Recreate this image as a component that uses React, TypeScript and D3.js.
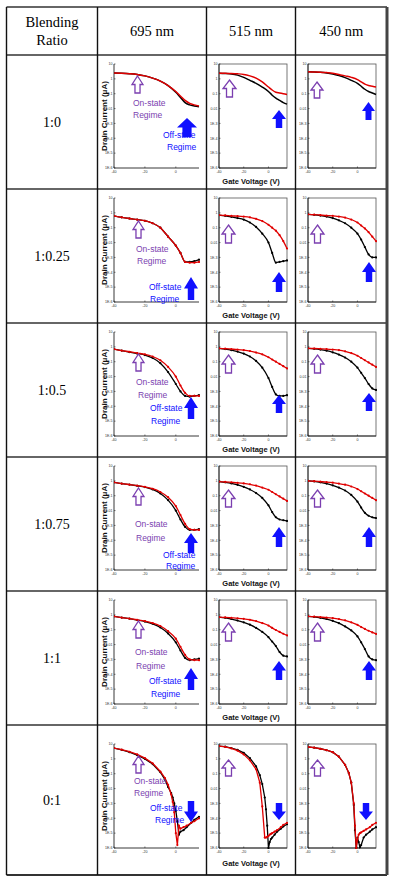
import React from 'react';
import * as d3 from 'd3';

// ---------- data ----------
const wavelengths = ['695 nm', '515 nm', '450 nm'];
const ratios = ['1:0', '1:0.25', '1:0.5', '1:0.75', '1:1', '0:1'];
const yTickValues = [10, 1, 0.1, 0.01, 1e-3, 1e-4, 1e-5, 1e-6];
const yTickLabels = ['10', '1', '0.1', '0.01', '1E-3', '1E-4', '1E-5', '1E-6'];
const xTickValues = [-40, -20, 0];

// gate voltage sweeps (V)
const vgSweep = [-40, -35, -30, -25, -20, -15, -10, -5, 0, 3, 6, 9, 12, 15];
const vgFine = [-40, -35, -30, -25, -20, -15, -10, -7, -5, -3, -2, -1, 0, 1, 2, 3, 5, 7, 10, 12, 15];

// log10 of drain current (uA)
const r1c1Black = [0.4, 0.38, 0.35, 0.3, 0.2, 0.05, -0.15, -0.45, -0.9, -1.25, -1.6, -1.75, -1.82, -1.87];
const r1c1Red = [0.4, 0.38, 0.35, 0.3, 0.2, 0.05, -0.15, -0.45, -0.85, -1.15, -1.45, -1.65, -1.75, -1.82];
const r1c2Black = [0.38, 0.36, 0.33, 0.25, 0.1, -0.1, -0.3, -0.55, -0.85, -1.1, -1.3, -1.45, -1.6, -1.7];
const r1c2Red = [0.38, 0.37, 0.36, 0.34, 0.3, 0.2, 0.05, -0.2, -0.55, -0.75, -0.9, -0.95, -1.0, -1.05];
const r1c3Black = [0.47, 0.46, 0.44, 0.4, 0.33, 0.22, 0.08, -0.1, -0.3, -0.5, -0.7, -0.85, -0.95, -1.05];
const r1c3Red = [0.47, 0.46, 0.45, 0.42, 0.38, 0.3, 0.2, 0.1, -0.05, -0.2, -0.35, -0.45, -0.5, -0.55];

const r2c1Black = [-0.2, -0.3, -0.38, -0.45, -0.53, -0.7, -1.0, -1.6, -2.2, -2.7, -3.3, -3.3, -3.25, -3.15];
const r2c1Red = [-0.2, -0.3, -0.38, -0.45, -0.53, -0.7, -1.0, -1.6, -2.2, -2.7, -3.3, -3.35, -3.35, -3.3];
const r2c2Black = [-0.15, -0.2, -0.27, -0.35, -0.45, -0.65, -0.95, -1.4, -2.0, -2.7, -3.35, -3.3, -3.25, -3.2];
const r2c2Red = [-0.15, -0.17, -0.2, -0.22, -0.25, -0.3, -0.4, -0.55, -0.8, -1.0, -1.2, -1.5, -1.9, -2.4];
const r2c3Black = [-0.1, -0.13, -0.18, -0.25, -0.35, -0.5, -0.7, -1.0, -1.4, -1.8, -2.3, -2.8, -3.0, -3.0];
const r2c3Red = [-0.1, -0.12, -0.15, -0.18, -0.2, -0.25, -0.32, -0.45, -0.65, -0.85, -1.05, -1.3, -1.6, -1.9];

const r3c1Black = [-0.15, -0.25, -0.35, -0.45, -0.55, -0.75, -1.1, -1.7, -2.5, -3.0, -3.3, -3.35, -3.3, -3.25];
const r3c1Red = [-0.15, -0.25, -0.33, -0.42, -0.5, -0.65, -0.9, -1.35, -2.0, -2.6, -3.1, -3.3, -3.3, -3.3];
const r3c2Black = [-0.1, -0.15, -0.22, -0.32, -0.45, -0.65, -0.95, -1.4, -2.1, -2.7, -3.2, -3.3, -3.3, -3.25];
const r3c2Red = [-0.1, -0.12, -0.15, -0.18, -0.22, -0.28, -0.38, -0.5, -0.7, -0.85, -1.0, -1.15, -1.3, -1.45];
const r3c3Black = [-0.1, -0.13, -0.18, -0.26, -0.37, -0.52, -0.72, -1.0, -1.4, -1.75, -2.1, -2.5, -2.8, -2.9];
const r3c3Red = [-0.1, -0.11, -0.13, -0.15, -0.18, -0.22, -0.3, -0.42, -0.6, -0.75, -0.9, -1.05, -1.2, -1.35];

const r4c1Black = [-0.1, -0.18, -0.25, -0.33, -0.42, -0.58, -0.85, -1.3, -2.0, -2.6, -3.1, -3.3, -3.3, -3.25];
const r4c1Red = [-0.1, -0.18, -0.25, -0.32, -0.4, -0.53, -0.75, -1.1, -1.7, -2.3, -2.9, -3.25, -3.3, -3.3];
const r4c2Black = [-0.05, -0.1, -0.17, -0.27, -0.4, -0.58, -0.82, -1.15, -1.65, -2.1, -2.45, -2.6, -2.65, -2.7];
const r4c2Red = [-0.05, -0.07, -0.1, -0.13, -0.17, -0.23, -0.32, -0.45, -0.6, -0.75, -0.9, -1.05, -1.2, -1.35];
const r4c3Black = [0.0, -0.04, -0.1, -0.18, -0.3, -0.45, -0.65, -0.95, -1.4, -1.8, -2.15, -2.35, -2.45, -2.5];
const r4c3Red = [0.0, -0.02, -0.05, -0.08, -0.12, -0.18, -0.26, -0.38, -0.55, -0.7, -0.85, -1.0, -1.15, -1.3];

const r5c1Black = [-0.1, -0.18, -0.26, -0.35, -0.45, -0.6, -0.85, -1.25, -1.85, -2.4, -2.9, -3.05, -3.0, -2.95];
const r5c1Red = [-0.1, -0.18, -0.25, -0.33, -0.42, -0.55, -0.75, -1.1, -1.6, -2.15, -2.7, -3.0, -3.05, -3.05];
const r5c2Black = [-0.15, -0.2, -0.28, -0.38, -0.5, -0.66, -0.88, -1.15, -1.5, -1.8, -2.1, -2.5, -2.75, -2.8];
const r5c2Red = [-0.15, -0.17, -0.2, -0.23, -0.27, -0.33, -0.42, -0.55, -0.72, -0.88, -1.02, -1.15, -1.27, -1.38];
const r5c3Black = [-0.1, -0.14, -0.2, -0.28, -0.4, -0.56, -0.78, -1.05, -1.45, -1.85, -2.3, -2.8, -3.0, -3.05];
const r5c3Red = [-0.1, -0.12, -0.15, -0.18, -0.22, -0.28, -0.37, -0.5, -0.67, -0.82, -0.95, -1.07, -1.18, -1.28];

const r6c1Black = [0.73, 0.6, 0.45, 0.25, 0.0, -0.35, -0.9, -1.4, -1.9, -2.3, -2.6, -3.0, -3.5, -4.2, -5.1, -4.9, -4.8, -4.6, -4.3, -4.1, -3.9];
const r6c1Red = [0.73, 0.62, 0.48, 0.3, 0.05, -0.3, -0.85, -1.3, -1.75, -2.4, -2.9, -3.6, -5.0, -5.8, -4.5, -4.7, -4.6, -4.5, -4.3, -4.2, -4.0];
const r6c2Black = [0.86, 0.82, 0.73, 0.6, 0.4, 0.05, -0.5, -1.1, -1.7, -2.6, -3.4, -4.5, -6.0, -5.6, -5.4, -5.3, -5.1, -4.9, -4.7, -4.55, -4.4];
const r6c2Red = [0.86, 0.8, 0.7, 0.55, 0.3, -0.1, -0.7, -1.6, -3.2, -5.3, -5.3, -5.25, -5.2, -5.1, -5.05, -5.0, -4.9, -4.8, -4.6, -4.45, -4.3];
const r6c3Black = [0.8, 0.75, 0.68, 0.58, 0.45, 0.15, -0.4, -0.95, -1.6, -3.1, -4.8, -6.0, -5.3, -5.6, -5.95, -5.8, -5.3, -5.1, -4.9, -4.75, -4.6];
const r6c3Red = [0.8, 0.75, 0.68, 0.58, 0.45, 0.15, -0.4, -0.95, -1.6, -3.0, -4.5, -6.0, -5.4, -5.1, -5.0, -4.95, -4.85, -4.75, -4.6, -4.45, -4.3];

const panelSeries = [
  [[r1c1Black, r1c1Red], [r1c2Black, r1c2Red], [r1c3Black, r1c3Red]],
  [[r2c1Black, r2c1Red], [r2c2Black, r2c2Red], [r2c3Black, r2c3Red]],
  [[r3c1Black, r3c1Red], [r3c2Black, r3c2Red], [r3c3Black, r3c3Red]],
  [[r4c1Black, r4c1Red], [r4c2Black, r4c2Red], [r4c3Black, r4c3Red]],
  [[r5c1Black, r5c1Red], [r5c2Black, r5c2Red], [r5c3Black, r5c3Red]],
  [[r6c1Black, r6c1Red], [r6c2Black, r6c2Red], [r6c3Black, r6c3Red]],
];

// ---------- layout ----------
const W = 393;
const H = 878;
const colX = [6.5, 97.5, 206.5, 295.5, 387];
const rowY = [7, 55, 189, 323, 457, 591, 725, 875];
const plotX = [[114, 199], [219, 287], [308, 376]];

const PURPLE = '#7b3fb0';
const BLUE = '#1010ff';
const SANS = 'Liberation Sans, Arial, sans-serif';
const SERIF = 'Liberation Serif, Times New Roman, serif';
const ANN_FS = 8.5;

// col 1 annotations: [purpleArrow x,y,w,h], on-state lines, [blueArrow x,y,w,h], off-state lines
const col1Ann = [
  { p: [132, 76, 11, 17], on: [[133, 103], [133, 115]], b: [177, 118, 20, 19], off: [[163, 135], [167, 147]], down: false },
  { p: [133, 221, 11, 17], on: [[136, 249], [137, 261]], b: [184, 277, 14, 23], off: [[149, 287], [150, 299]], down: false },
  { p: [133, 354, 11, 17], on: [[136, 382], [138, 395]], b: [184, 397, 14, 22], off: [[150, 408], [151, 421]], down: false },
  { p: [133, 488, 11, 17], on: [[135, 524], [136, 538]], b: [184, 533, 14, 20], off: [[163, 555], [166, 566]], down: false },
  { p: [133, 621, 11, 17], on: [[135, 652], [136, 666]], b: [184, 668, 14, 22], off: [[149, 681], [151, 694]], down: false },
  { p: [133, 756, 11, 17], on: [[134, 781], [134, 793]], b: [184, 801, 14, 21], off: [[150, 808], [155, 820]], down: true },
];
const colArrows = [
  [[[223, 80, 13, 17], [272, 110, 14, 18]], [[311, 82, 12, 16], [362, 102, 13, 18]]],
  [[[222, 225, 13, 18], [272, 272, 14, 20]], [[311, 225, 13, 18], [362, 262, 14, 20]]],
  [[[222, 355, 13, 18], [272, 395, 14, 18]], [[311, 355, 13, 18], [362, 393, 14, 18]]],
  [[[222, 490, 13, 17], [272, 527, 14, 20]], [[311, 490, 13, 17], [362, 527, 14, 20]]],
  [[[222, 623, 13, 18], [272, 661, 14, 19]], [[311, 623, 13, 18], [362, 661, 14, 19]]],
  [[[222, 760, 13, 16], [272, 803, 14, 17]], [[311, 760, 13, 16], [359, 803, 14, 17]]],
];

function arrowPath(x: number, y: number, w: number, h: number, down: boolean) {
  const pts = [[0.5, 0], [1, 0.5], [0.73, 0.5], [0.73, 1], [0.27, 1], [0.27, 0.5], [0, 0.5]];
  return 'M' + pts.map(([u, v]) => `${x + u * w},${y + (down ? 1 - v : v) * h}`).join('L') + 'Z';
}

function Panel({ r, c }: { r: number; c: number }) {
  const top = rowY[r + 1];
  const y0 = r === 5 ? top + 19 : top + 9;
  const y1 = y0 + 104;
  const [x0, x1] = plotX[c];
  const xs = d3.scaleLinear().domain([-40, 15]).range([x0, x1]);
  const ys = d3.scaleLog().domain([1e-6, 10]).range([y1, y0]).clamp(true);
  const vg = r === 5 ? vgFine : vgSweep;
  const [blk, red] = panelSeries[r][c];
  const toPts = (arr: number[]) => arr.map((e, i) => [vg[i], Math.pow(10, e)] as [number, number]);
  const line = d3.line<[number, number]>()
    .x((d) => xs(d[0]))
    .y((d) => ys(d[1]))
    .curve(r === 5 ? d3.curveLinear : d3.curveMonotoneX);
  const dotted = r > 0;
  const series = [
    { pts: toPts(blk), color: '#000' },
    { pts: toPts(red), color: '#e00000' },
  ];
  return (
    <g>
      <clipPath id={`clip-${r}-${c}`}>
        <rect x={x0} y={y0 - 1} width={x1 - x0 + 1} height={y1 - y0 + 2} />
      </clipPath>
      {c > 0 && <rect x={x0} y={y0} width={x1 - x0} height={y1 - y0} fill="none" stroke="#555" strokeWidth={0.8} />}
      <line x1={x0} x2={x0} y1={y0} y2={y1} stroke="#222" strokeWidth={0.9} />
      <line x1={x0} x2={x1} y1={y1} y2={y1} stroke="#222" strokeWidth={0.9} />
      {yTickValues.map((v, i) => (
        <g key={i}>
          <line x1={x0} x2={x0 + 1.5} y1={ys(v)} y2={ys(v)} stroke="#222" strokeWidth={0.6} />
          <text x={x0 - 1.5} y={ys(v) + 1.3} fontSize={3.6} fontFamily={SANS} textAnchor="end" fill="#333">{yTickLabels[i]}</text>
        </g>
      ))}
      {xTickValues.map((v) => (
        <g key={v}>
          <line x1={xs(v)} x2={xs(v)} y1={y1} y2={y1 - 1.5} stroke="#222" strokeWidth={0.6} />
          <text x={xs(v)} y={y1 + 4.5} fontSize={3.6} fontFamily={SANS} textAnchor="middle" fill="#333">{v}</text>
        </g>
      ))}
      <g clipPath={`url(#clip-${r}-${c})`}>
        {series.map((s, i) => (
          <g key={i}>
            <path d={line(s.pts) || ''} fill="none" stroke={s.color} strokeWidth={dotted ? 1.3 : 1.5} />
            {dotted && s.pts.map((p, j) => (
              <circle key={j} cx={xs(p[0])} cy={ys(p[1])} r={1.1} fill={s.color} />
            ))}
          </g>
        ))}
      </g>
      {c === 0 && (
        <text transform={`translate(${x0 - 7},${(y0 + y1) / 2}) rotate(-90)`} fontSize={8} fontWeight="bold" fontFamily={SANS} textAnchor="middle" fill="#111">
          Drain Current (μA)
        </text>
      )}
      {c === 1 && (
        <text x={(colX[2] + colX[3]) / 2} y={r === 5 ? top + 141 : top + 129} fontSize={7.5} fontWeight="bold" fontFamily={SANS} textAnchor="middle" fill="#111">
          Gate Voltage (V)
        </text>
      )}
    </g>
  );
}

export default function App() {
  return (
    <svg width={W} height={H} style={{ position: 'absolute', left: 0, top: 0, background: '#fff' }}>
      <rect x={0} y={0} width={W} height={H} fill="#fff" />
      {ratios.map((_, r) => [0, 1, 2].map((c) => <Panel key={`${r}-${c}`} r={r} c={c} />))}
      {/* annotations */}
      {col1Ann.map((a, r) => (
        <g key={r}>
          <path d={arrowPath(a.p[0], a.p[1], a.p[2], a.p[3], false)} fill="#fff" stroke={PURPLE} strokeWidth={1.3} />
          <text x={a.on[0][0]} y={a.on[0][1] + 3} fontSize={ANN_FS} fontFamily={SANS} fill={PURPLE}>On-state</text>
          <text x={a.on[1][0]} y={a.on[1][1] + 3} fontSize={ANN_FS} fontFamily={SANS} fill={PURPLE}>Regime</text>
          <path d={arrowPath(a.b[0], a.b[1], a.b[2], a.b[3], a.down)} fill={BLUE} />
          <text x={a.off[0][0]} y={a.off[0][1] + 3} fontSize={ANN_FS} fontFamily={SANS} fill={BLUE}>Off-state</text>
          <text x={a.off[1][0]} y={a.off[1][1] + 3} fontSize={ANN_FS} fontFamily={SANS} fill={BLUE}>Regime</text>
        </g>
      ))}
      {colArrows.map((row, r) => row.map((pair, k) => (
        <g key={`${r}-${k}`}>
          <path d={arrowPath(pair[0][0], pair[0][1], pair[0][2], pair[0][3], false)} fill="#fff" stroke={PURPLE} strokeWidth={1.3} />
          <path d={arrowPath(pair[1][0], pair[1][1], pair[1][2], pair[1][3], r === 5)} fill={BLUE} />
        </g>
      )))}
      {/* table grid */}
      {rowY.map((y, i) => (
        <line key={`h${i}`} x1={colX[0]} x2={colX[4]} y1={y} y2={y} stroke="#333" strokeWidth={i === rowY.length - 1 ? 2.2 : 1.6} />
      ))}
      {colX.map((x, i) => (
        <line key={`v${i}`} x1={x} x2={x} y1={rowY[0]} y2={rowY[rowY.length - 1]} stroke={i === 4 ? '#444' : '#111'} strokeWidth={i === 4 ? 3 : 1.4} />
      ))}
      {/* header */}
      <text x={(colX[0] + colX[1]) / 2} y={27} fontSize={14.5} fontFamily={SERIF} textAnchor="middle">Blending</text>
      <text x={(colX[0] + colX[1]) / 2} y={45} fontSize={14.5} fontFamily={SERIF} textAnchor="middle">Ratio</text>
      {wavelengths.map((w, i) => (
        <text key={w} x={(colX[i + 1] + colX[i + 2]) / 2} y={36} fontSize={14.5} fontFamily={SERIF} textAnchor="middle">{w}</text>
      ))}
      {ratios.map((t, r) => (
        <text key={t} x={(colX[0] + colX[1]) / 2} y={(rowY[r + 1] + rowY[r + 2]) / 2 + 5} fontSize={14} fontFamily={SERIF} textAnchor="middle">{t}</text>
      ))}
    </svg>
  );
}
